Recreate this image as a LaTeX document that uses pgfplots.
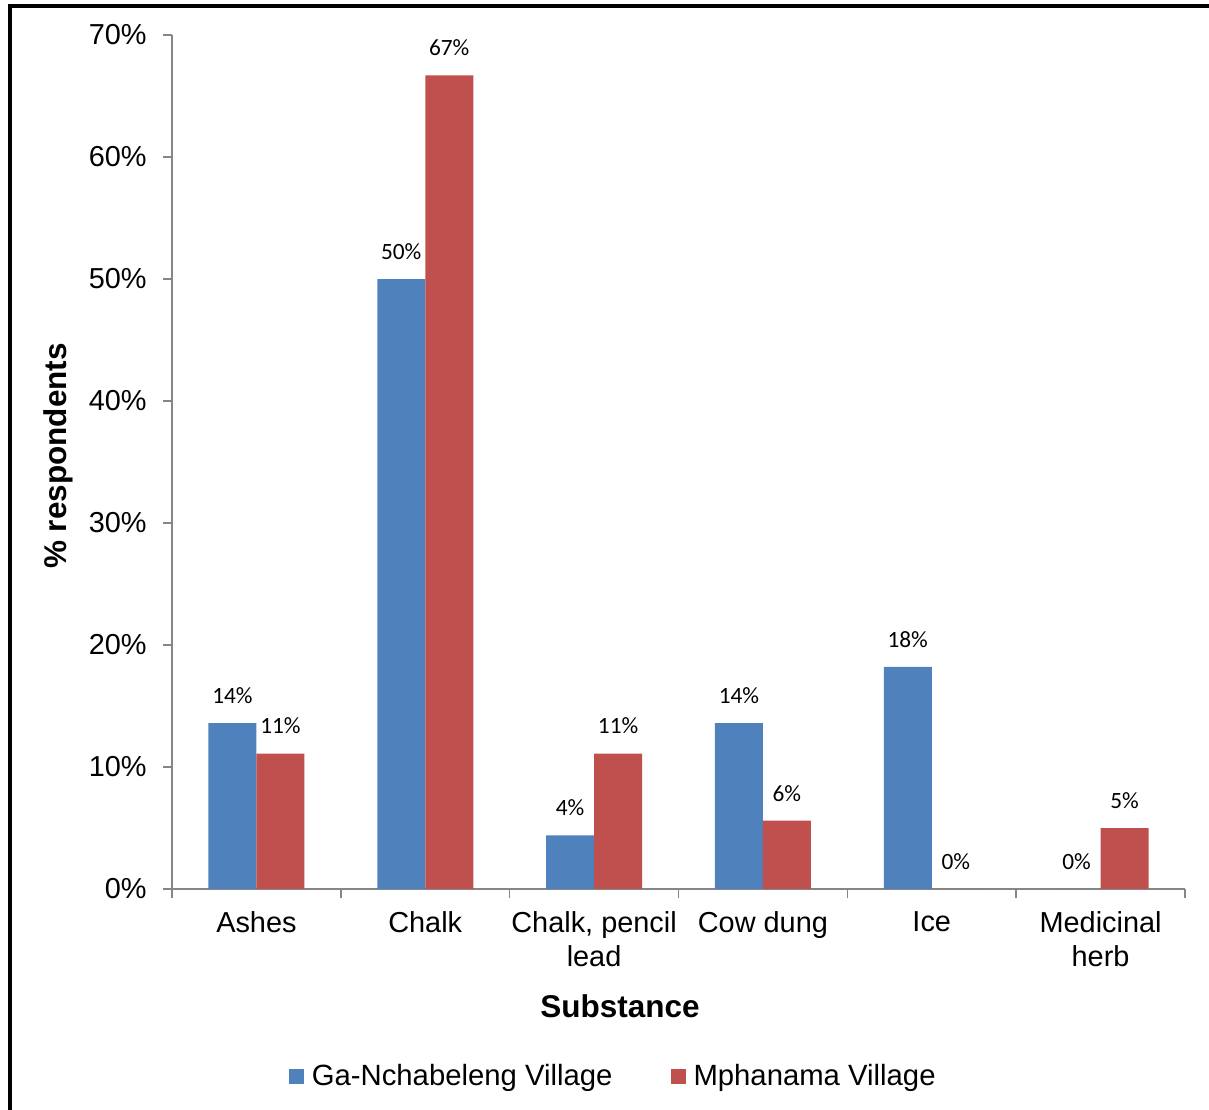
\documentclass[border=0pt]{standalone}
\usepackage{fontspec}
\setmainfont{Liberation Sans}
\newfontfamily\carlito{Carlito}
\usepackage{pgfplots}
\pgfplotsset{compat=1.18}
\definecolor{barblue}{HTML}{4F81BD}
\definecolor{barred}{HTML}{C0504D}
\definecolor{axgray}{HTML}{868686}
\begin{document}
\begin{tikzpicture}
\begin{axis}[
  at={(86bp,110.5bp)}, anchor=south west,
  scale only axis, width=506.5bp, height=427bp,
  ybar=0pt, bar width=24bp,
  xmin=-0.5, xmax=5.5, ymin=0, ymax=70,
  clip=false,
  axis x line*=bottom, axis y line*=left,
  axis line style={axgray, line width=0.75bp},
  tick style={axgray, line width=0.75bp},
  tick align=outside, major tick length=4.5bp,
  ytick={0,10,20,30,40,50,60,70},
  yticklabels={0\%,10\%,20\%,30\%,40\%,50\%,60\%,70\%},
  yticklabel style={font=\fontsize{14.5}{17}\selectfont, inner sep=0pt, xshift=-8bp},
  xtick={-0.5,0.5,1.5,2.5,3.5,4.5,5.5},
  xticklabels={{},{},{},{},{},{},{}},
  extra x ticks={0,1,2,3,4,5},
  extra x tick labels={Ashes,Chalk,{Chalk, pencil\\lead},Cow dung,Ice,{Medicinal\\herb}},
  extra x tick style={major tick length=0pt, tick style={draw=none},
    xticklabel style={font=\fontsize{14.5}{17}\selectfont, align=center, anchor=north, inner sep=0pt, yshift=-11bp}},
  nodes near coords,
  point meta=explicit symbolic,
  every node near coord/.append style={font=\carlito\fontsize{11.7}{14}\selectfont, text=black, anchor=south, inner sep=0pt, yshift=9.5bp},
  legend columns=2,
  legend style={at={(rel axis cs:0.4385,-0.219)}, anchor=center, draw=none,
    font=\fontsize{14.7}{17}\selectfont, inner sep=0pt,
    nodes={inner sep=4bp},
    /tikz/every even column/.append style={column sep=25bp}},
]
\addplot[fill=barblue, draw=none,
  legend image code/.code={\fill[barblue] (0bp,-3.75bp) rectangle (7.5bp,3.75bp);}]
  coordinates {(0,13.6)[14\%] (1,50.0)[50\%] (2,4.4)[4\%] (3,13.6)[14\%] (4,18.2)[18\%] (5,0)[0\%]};
\addplot[fill=barred, draw=none,
  legend image code/.code={\fill[barred] (0bp,-3.75bp) rectangle (7.5bp,3.75bp);}]
  coordinates {(0,11.1)[11\%] (1,66.7)[67\%] (2,11.1)[11\%] (3,5.6)[6\%] (4,0)[0\%] (5,5.0)[5\%]};
\legend{Ga-Nchabeleng Village, Mphanama Village}
\end{axis}
\node[font=\bfseries\fontsize{15.8}{19}\selectfont] at (310bp,51.75bp) {Substance};
\node[rotate=90, font=\bfseries\fontsize{15.8}{19}\selectfont] at (29bp,327bp) {\% respondents};
\draw[line width=2bp, line cap=rect] (4.9bp,0) -- (4.9bp,552.1bp) -- (610bp,552.1bp);
\pgfresetboundingbox
\useasboundingbox (0,0) rectangle (604.5bp,555bp);
\end{tikzpicture}
\end{document}
